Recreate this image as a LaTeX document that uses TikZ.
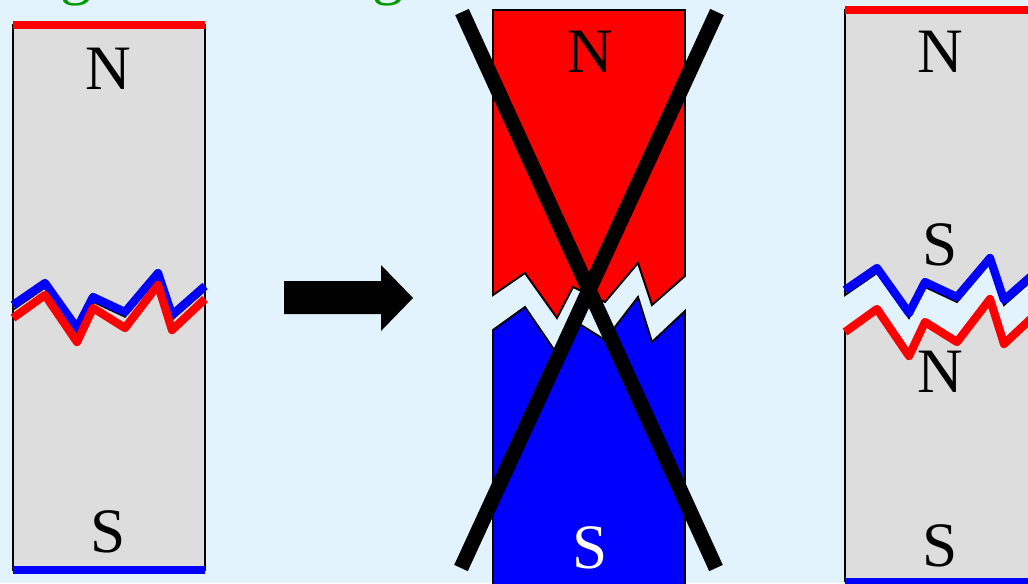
\documentclass[tikz,border=0pt]{standalone}
\usepackage{fontspec}
\setmainfont{Liberation Serif}
\usepackage{tikz}
\usetikzlibrary{arrows.meta}
\tikzset{
  piece/.style={draw=black, line width=1.1pt, line join=miter},
  crack/.style={line width=4.7pt, line join=round},
  pole/.style={font=\fontsize{36}{40}\selectfont, inner sep=0pt},
  endbar/.style={line width=4.5pt},
  cross/.style={line width=8.5pt},
}

\begin{document}
\begin{tikzpicture}[x=0.02cm, y=-0.02cm]
    \definecolor{bgblue}{RGB}{227,243,254}
    \definecolor{magray}{RGB}{221,221,221}
    \definecolor{nred}{RGB}{255,0,0}
    \definecolor{sblue}{RGB}{0,0,255}
    \definecolor{titlegreen}{RGB}{0,153,0}
    \useasboundingbox (0,0) rectangle (1028,583);
    \begin{scope}
    \clip (0,0) rectangle (1028,583);
    \fill[bgblue] (0,0) rectangle (1028,583);
    % cut-off title above the picture
    \node[pole, titlegreen, anchor=base] (tg1) at (76,-8) {g};
    \node[pole, titlegreen, anchor=base] (tg2) at (388,-8) {g};

    % whole magnet with a crack
    \filldraw[piece, fill=magray] (13,25) rectangle (205,570);
    \draw[endbar, nred] (13,25) -- (205,25);
    \draw[endbar, sblue] (13,570) -- (205,570);
    \draw[line width=0.8pt] (13,310) -- (45,288) -- (77,333) -- (93,302) -- (125,317)
      -- (158,278) -- (172,320) -- (205,291);
    \draw[crack, sblue] (13,305) -- (45,283) -- (77,328) -- (93,297) -- (125,312)
      -- (158,273) -- (172,315) -- (205,286);
    \draw[crack, nred] (13,318) -- (45,295) -- (77,342) -- (93,308) -- (125,328)
      -- (158,285) -- (172,330) -- (205,299);
    \node[pole] (n1) at (108,69) {N};
    \node[pole] (s1) at (108,532) {S};

    % arrow
    \fill (284,281) -- (381,281) -- (381,265) -- (413,298) -- (381,331) -- (381,314)
      -- (284,314) -- cycle;

    % wrong result
    \filldraw[piece, fill=nred] (493,10) -- (685,10) -- (685,276) -- (652,305) -- (638,263)
      -- (605,302) -- (573,287) -- (557,318) -- (525,273) -- (493,295) -- cycle;
    \filldraw[piece, fill=sblue] (493,600) -- (493,330) -- (525,307) -- (557,354) -- (573,320)
      -- (605,340) -- (638,297) -- (652,342) -- (685,311) -- (685,600);
    \node[pole] (n2) at (590,52) {N};
    \node[pole, white] (s2) at (590,548) {S};
    \draw[cross] (462,12) -- (716,568);
    \draw[cross] (717,12) -- (461,568);

    % right result: two magnets
    \filldraw[piece, fill=magray] (845,10) -- (1045,10) -- (1045,271) -- (1037,276) -- (1004,305)
      -- (990,263) -- (957,302) -- (925,287) -- (909,318) -- (877,273) -- (845,295) -- cycle;
    \filldraw[piece, fill=magray] (845,581) -- (1045,581) -- (1045,313) -- (1037,313) -- (1004,344)
      -- (990,299) -- (957,342) -- (925,322) -- (909,356) -- (877,309) -- (845,332) -- cycle;
    \draw[endbar, nred] (845,10) -- (1045,10);
    \draw[endbar, sblue] (845,582) -- (1045,582);
    \draw[crack, sblue] (845,290) -- (877,268) -- (909,313) -- (925,282) -- (957,297)
      -- (990,258) -- (1004,300) -- (1037,271);
    \draw[crack, nred] (845,332) -- (877,309) -- (909,356) -- (925,322) -- (957,342)
      -- (990,299) -- (1004,344) -- (1037,313);
    \node[pole] (n3) at (940,52) {N};
    \node[pole] (s3) at (940,245) {S};
    \node[pole] (n4) at (940,372) {N};
    \node[pole] (s4) at (940,546) {S};
    \end{scope}
  \end{tikzpicture}
\end{document}
